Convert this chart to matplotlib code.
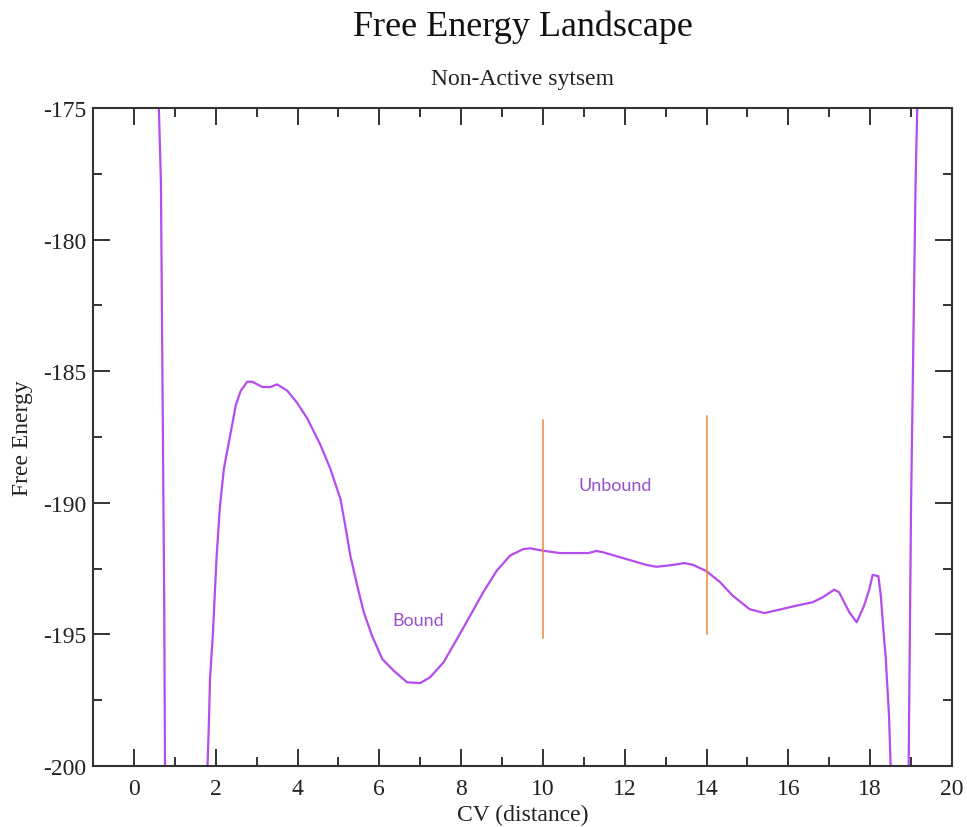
import matplotlib
matplotlib.use("Agg")
import matplotlib.pyplot as plt
from matplotlib.ticker import MultipleLocator

plt.rcParams["axes.unicode_minus"] = False

# free energy curve (parts beyond the axes only need to leave the frame)
cv = [0.58, 0.61, 0.66, 0.74, 0.76, 0.80, 1.30, 1.76, 1.80, 1.84, 1.86, 1.93, 2.02, 2.10, 2.20,
      2.37, 2.49, 2.61, 2.77, 2.89, 3.14, 3.34, 3.50, 3.75, 3.99, 4.24, 4.56, 4.80, 5.05, 5.17,
      5.29, 5.46, 5.62, 5.82, 6.07, 6.35, 6.68, 7.00, 7.24, 7.57, 7.90, 8.22, 8.54, 8.87, 9.20,
      9.52, 9.68, 10.00, 10.41, 11.11, 11.31, 11.47, 11.80, 12.20, 12.53, 12.77, 13.02, 13.26,
      13.46, 13.67, 13.99, 14.32, 14.64, 15.05, 15.41, 15.78, 16.19, 16.59, 16.84, 17.12, 17.24,
      17.49, 17.67, 17.85, 17.98, 18.06, 18.20, 18.26, 18.34, 18.38, 18.46, 18.50, 18.53, 18.70,
      18.90, 18.94, 18.95, 19.00, 19.11, 19.15, 19.18]
energy = [-172.0, -175.0, -177.8, -193.5, -200.0, -203.0, -215.0, -202.0, -200.0, -198.0, -196.7,
          -195.0, -192.1, -190.2, -188.7, -187.3, -186.3, -185.75, -185.4, -185.4, -185.6, -185.6,
          -185.5, -185.74, -186.2, -186.8, -187.8, -188.7, -189.86, -190.9, -192.0, -193.15,
          -194.16, -195.05, -195.93, -196.38, -196.82, -196.85, -196.63, -196.06, -195.17, -194.29,
          -193.4, -192.58, -192.0, -191.76, -191.73, -191.82, -191.91, -191.91, -191.83, -191.88,
          -192.03, -192.21, -192.36, -192.43, -192.39, -192.34, -192.29, -192.36, -192.59, -193.0,
          -193.53, -194.04, -194.19, -194.06, -193.91, -193.78, -193.59, -193.3, -193.4, -194.16,
          -194.54, -193.91, -193.28, -192.74, -192.79, -193.53, -195.17, -195.87, -198.1, -200.0,
          -202.0, -215.0, -202.0, -200.0, -198.3, -190.0, -177.8, -175.0, -172.0]

# orange markers around the unbound region
marker_x = [10.0, 14.0]
marker_top = [-186.86, -186.7]
marker_bottom = [-195.15, -195.0]

# region labels
region_names = ["Bound", "Unbound"]
region_x = [6.96, 11.76]
region_y = [-194.64, -189.5]

serif = "Liberation Serif"

fig = plt.figure(figsize=(9.67, 8.28), dpi=100)
ax = fig.add_axes([93 / 967, 61 / 828, 859 / 967, 658 / 828])

ax.plot(cv, energy, color="#b44cef", lw=1.6)
for x, top, bot in zip(marker_x, marker_top, marker_bottom):
    ax.plot([x, x], [bot, top], color="#f0883c", lw=1.1)
for name, x, y in zip(region_names, region_x, region_y):
    ax.text(x, y, name, color="#9950c8", fontsize=13, family="Lato",
            ha="center", va="baseline")

ax.set_xlim(-1, 20)
ax.set_ylim(-200, -175)
ax.xaxis.set_major_locator(MultipleLocator(2))
ax.xaxis.set_minor_locator(MultipleLocator(1))
ax.yaxis.set_major_locator(MultipleLocator(5))
ax.yaxis.set_minor_locator(MultipleLocator(2.5))
ax.tick_params(which="both", direction="in", top=True, right=True, color="#333333", width=1.4)
ax.tick_params(which="major", length=12.5, pad=5, labelsize=17, labelcolor="#222222")
ax.tick_params(axis="x", which="major", pad=9)
ax.tick_params(which="minor", length=6.5)
for lab in ax.get_xticklabels() + ax.get_yticklabels():
    lab.set_family(serif)
for sp in ax.spines.values():
    sp.set_color("#333333")
    sp.set_linewidth(1.5)

ax.set_xlabel("CV (distance)", family=serif, fontsize=17, color="#222222", labelpad=3)
ax.set_ylabel("Free Energy", family=serif, fontsize=17, color="#222222", labelpad=7)

fig.text(0.5403, 1 - 36 / 828, "Free Energy Landscape", family=serif, fontsize=26,
         ha="center", va="baseline", color="#111111")
fig.text(0.5403, 1 - 85 / 828, "Non-Active sytsem", family=serif, fontsize=17,
         ha="center", va="baseline", color="#222222")

fig.savefig("out.png", dpi=100)
